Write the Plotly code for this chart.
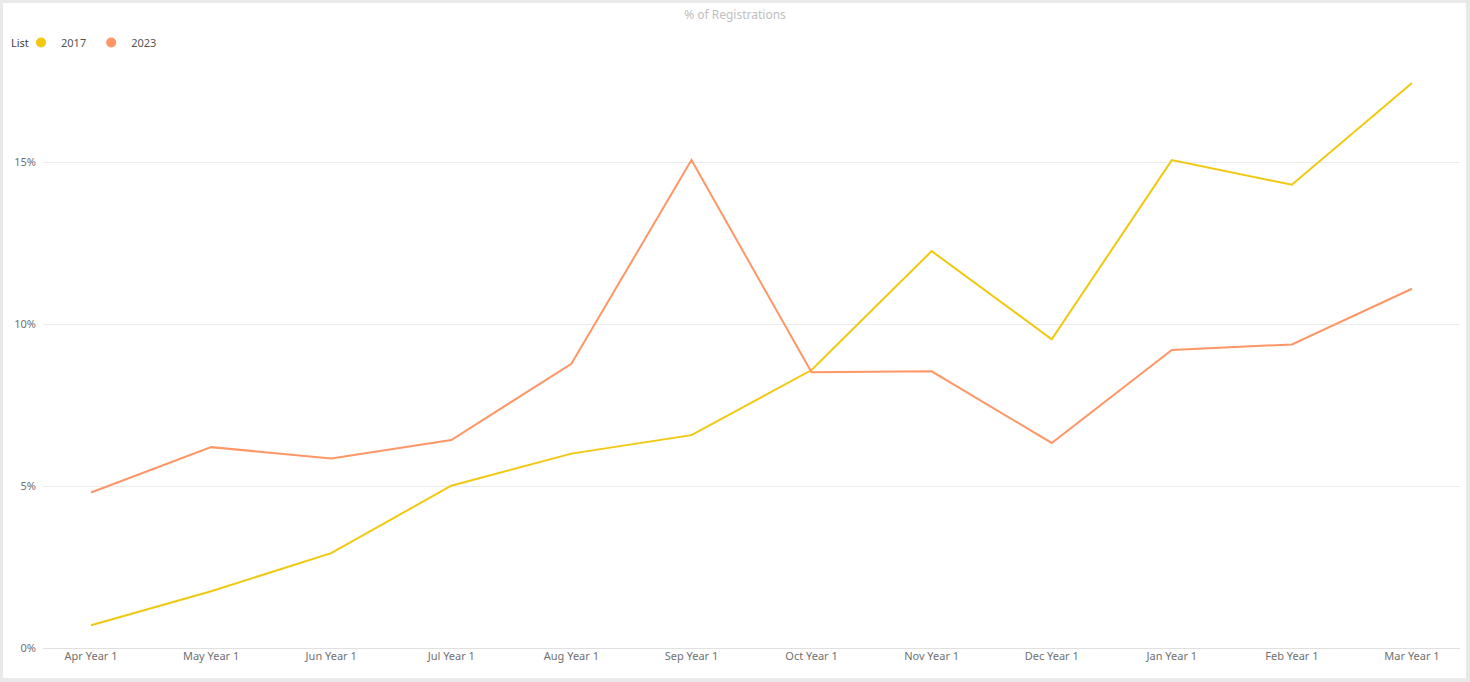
import plotly.graph_objects as go

months = ["Apr Year 1", "May Year 1", "Jun Year 1", "Jul Year 1", "Aug Year 1", "Sep Year 1",
          "Oct Year 1", "Nov Year 1", "Dec Year 1", "Jan Year 1", "Feb Year 1", "Mar Year 1"]
series_names = ["2017", "2023"]
values_2017 = [0.70, 1.75, 2.93, 5.01, 6.00, 6.57, 8.58, 12.25, 9.53, 15.06, 14.30, 17.44]
values_2023 = [4.80, 6.20, 5.85, 6.42, 8.77, 15.06, 8.51, 8.54, 6.33, 9.20, 9.37, 11.09]
colors = ["#F2C80F", "#FE9666"]
y_ticks = [0, 5, 10, 15]
y_tick_labels = ["0%", "5%", "10%", "15%"]

W, H = 1470, 682
ML, MR, MT, MB = 43, 10, 60, 34
PW, PH = W - ML - MR, H - MT - MB

fig = go.Figure()
for name, vals, col in zip(series_names, [values_2017, values_2023], colors):
    fig.add_trace(go.Scatter(x=months, y=vals, mode="lines", name=name,
                             line=dict(color=col, width=2), showlegend=False,
                             hovertemplate="%{x}<br>%{y:.2f}%<extra>" + name + "</extra>"))
    fig.add_trace(go.Scatter(x=[None], y=[None], mode="markers", name=name,
                             marker=dict(color=col, size=10, symbol="circle"),
                             showlegend=True))

def px2paper_x(px):
    return (px - ML) / PW

def px2paper_y(py):
    return (H - MB - py) / PH

# card background
x0, x1 = px2paper_x(3), px2paper_x(1466)
y0, y1 = px2paper_y(678), px2paper_y(3)
fig.add_shape(type="rect", xref="paper", yref="paper", x0=x0, x1=x1, y0=y0, y1=y1,
              fillcolor="white", line=dict(width=0), layer="below")

# legend title
fig.add_annotation(text="List", xref="paper", yref="paper", x=px2paper_x(9), y=px2paper_y(42),
                   xanchor="left", yanchor="middle", showarrow=False,
                   font=dict(size=11, color="#444444"))

fig.update_layout(
    width=W, height=H,
    margin=dict(l=ML, r=MR, t=MT, b=MB, autoexpand=False),
    paper_bgcolor="#E9E9E9",
    plot_bgcolor="rgba(0,0,0,0)",
    font=dict(family="Noto Sans, Open Sans, sans-serif", color="#777777", size=11),
    title=dict(text="% of Registrations", x=0.5, xanchor="center", y=1 - 15 / H, yanchor="middle",
               font=dict(size=12, color="#C0C0C0")),
    legend=dict(orientation="h", x=px2paper_x(21), xanchor="left", y=px2paper_y(28), yanchor="top",
                font=dict(size=11, color="#555555"), bgcolor="rgba(0,0,0,0)",
                itemwidth=30, tracegroupgap=0, valign="middle"),
    xaxis=dict(type="category", range=[-0.4, 11.4], showgrid=False, showline=False, automargin=False,
               ticks="", tickfont=dict(size=11, color="#707070"), zeroline=False, fixedrange=True),
    yaxis=dict(range=[0, 18.15], tickvals=y_ticks, ticktext=y_tick_labels, showgrid=True,
               automargin=False,
               gridcolor="#EBEBEB", gridwidth=1, zeroline=True, zerolinecolor="#E0E0E0",
               zerolinewidth=1, showline=False, ticks="", ticklabelstandoff=6,
               tickfont=dict(size=11, color="#707070"), fixedrange=True),
    showlegend=True,
)

fig.write_html("out.html", config={"displayModeBar": False},
               post_script="document.body.style.margin='0';document.body.style.overflow='hidden';")
